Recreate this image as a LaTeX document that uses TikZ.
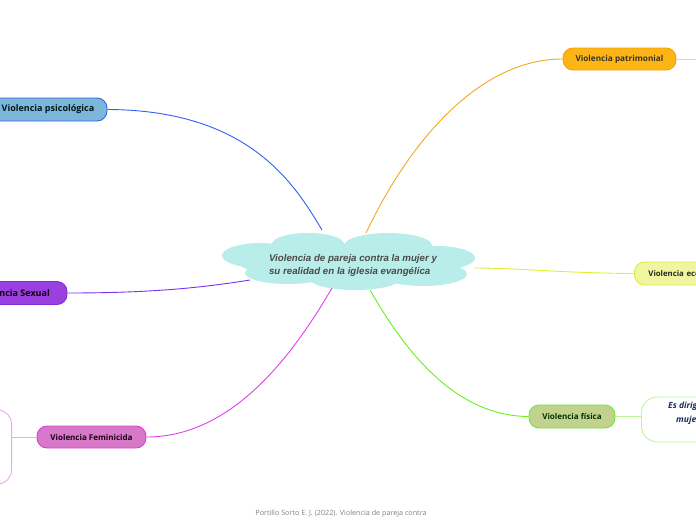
\documentclass[tikz,border=0pt]{standalone}
\usepackage{fontspec}
\setmainfont{Open Sans}
\newfontfamily\arialf{Liberation Sans}
\usetikzlibrary{shapes.geometric}
\definecolor{cloudc}{HTML}{B9EDE9}
\definecolor{ctext}{HTML}{4A4A4A}
\definecolor{psif}{HTML}{7DB6DB}
\definecolor{psid}{HTML}{2F65E6}
\definecolor{sexf}{HTML}{9A40E0}
\definecolor{sexd}{HTML}{7F2BD8}
\definecolor{femf}{HTML}{D878C8}
\definecolor{femd}{HTML}{D940D6}
\definecolor{patf}{HTML}{FDB515}
\definecolor{patd}{HTML}{F2A300}
\definecolor{ecof}{HTML}{F2F5A0}
\definecolor{ecod}{HTML}{D6F03C}
\definecolor{fisf}{HTML}{C3D18E}
\definecolor{fisd}{HTML}{66EE33}
\definecolor{lblue}{HTML}{3060F0}
\definecolor{lpurp}{HTML}{7A30F0}
\definecolor{lmag}{HTML}{E040E8}
\definecolor{lora}{HTML}{F5A623}
\definecolor{lyel}{HTML}{E0F030}
\definecolor{lgre}{HTML}{66F020}
\definecolor{navy}{HTML}{1A2A5A}
\begin{document}
\begin{tikzpicture}[x=1pt,y=-1pt,
  topic/.style={rounded corners=10pt, line width=0.9pt, minimum height=23pt, inner sep=0pt, font=\fontsize{9}{10}\selectfont\bfseries},
  conn/.style={line width=0.9pt},
  cl/.style={fill=cloudc, draw=none}]
\useasboundingbox (0,0) rectangle (696,520);
\clip (0,0) rectangle (696,520);
\coordinate (cPsi) at (322,230);
\coordinate (cSex) at (250,280);
\coordinate (cFem) at (332,288);
\coordinate (cPat) at (366,233);
\coordinate (cEco) at (474,268);
\coordinate (cFis) at (370,290);
\node[topic, fill=psif, draw=psid, text=black!80!teal, minimum width=118pt] (psi) at (48,109.5) {Violencia psicológica};
\node[topic, fill=sexf, draw=sexd, text=black!85!violet, minimum width=107pt] (sex) at (13.5,293) {Violencia Sexual};
\node[topic, fill=femf, draw=femd, text=black!80!violet, minimum width=109pt, minimum height=22pt, font=\fontsize{8}{9}\selectfont\bfseries] (fem) at (91.5,437) {Violencia Feminicida};
\node[topic, fill=patf, draw=patd, text=black!80!olive, minimum width=113pt, minimum height=22pt, font=\fontsize{8.2}{9}\selectfont\bfseries] (pat) at (619.5,59) {Violencia patrimonial};
\node[topic, fill=ecof, draw=ecod, text=black!85, minimum width=125pt, anchor=west, font=\fontsize{7.8}{9}\selectfont\bfseries, align=left, text width=111pt] (eco) at (634,273.5) {\hspace*{7pt}Violencia económica};
\node[topic, fill=fisf, draw=fisd, text=black!80!green, minimum width=86pt, font=\fontsize{8}{9}\selectfont\bfseries] (fis) at (572,416.5) {Violencia física};
\node[draw=lgre!45, fill=white, rounded corners=16pt, line width=0.9pt, minimum width=120pt, minimum height=45pt, anchor=west] (dir) at (641,419.5) {};
\node[anchor=west, inner sep=0pt, text=navy, font=\fontsize{8.5}{9}\selectfont\bfseries\itshape] (dir1) at (668,406) {Es dirigida a la};
\node[anchor=west, inner sep=0pt, text=navy, font=\fontsize{8.5}{9}\selectfont\bfseries\itshape] (dir2) at (676,420) {mujer};
\node[draw=femd!45, fill=white, rounded corners=14pt, line width=0.9pt, minimum width=60pt, minimum height=74pt, anchor=east] (fbox) at (12,447) {};
% cloud
\fill[cl] (261,255.5) ellipse (39pt and 12.5pt);
\fill[cl] (308,244) ellipse (36pt and 11pt);
\fill[cl] (388,245.5) ellipse (44pt and 12.5pt);
\fill[cl] (437,258) ellipse (38pt and 12pt);
\fill[cl] (423,274) ellipse (44pt and 12pt);
\fill[cl] (355,279) ellipse (45pt and 11pt);
\fill[cl] (288,273) ellipse (43pt and 11pt);
\fill[cl] (348,262) ellipse (110pt and 18pt);
\node[align=left, inner sep=0pt, text=ctext, font=\arialf\fontsize{9.7}{13}\selectfont\bfseries\itshape] (center) at (353,265) {Violencia de pareja contra la mujer y\\su realidad en la iglesia evangélica};
% connectors
\draw[conn, lblue] (psi.east) .. controls (250,110) and (295,185) .. (cPsi);
\draw[conn, lpurp] (sex.east) .. controls (150,293) and (200,288) .. (cSex);
\draw[conn, lmag] (fem.east) .. controls (230,437) and (290,360) .. (cFem);
\draw[conn, lora] (pat.west) .. controls (480,59) and (410,140) .. (cPat);
\draw[conn, lyel] (eco.west) .. controls (560,273) and (520,268) .. (cEco);
\draw[conn, lgre] (fis.west) .. controls (460,416) and (410,360) .. (cFis);
\draw[line width=0.9pt, femd!45] (fem.west) -- (fbox.east |- fem.west);
\draw[line width=0.9pt, lgre!45] (fis.east) -- (dir.west |- fis.east);
\draw[line width=0.9pt, lora!50] (pat.east) -- (696,59);
\node[text=gray, font=\fontsize{7.2}{8}\selectfont] (foot) at (341,514) {Portillo Sorto E. J. (2022). Violencia de pareja contra};
\end{tikzpicture}
\end{document}
